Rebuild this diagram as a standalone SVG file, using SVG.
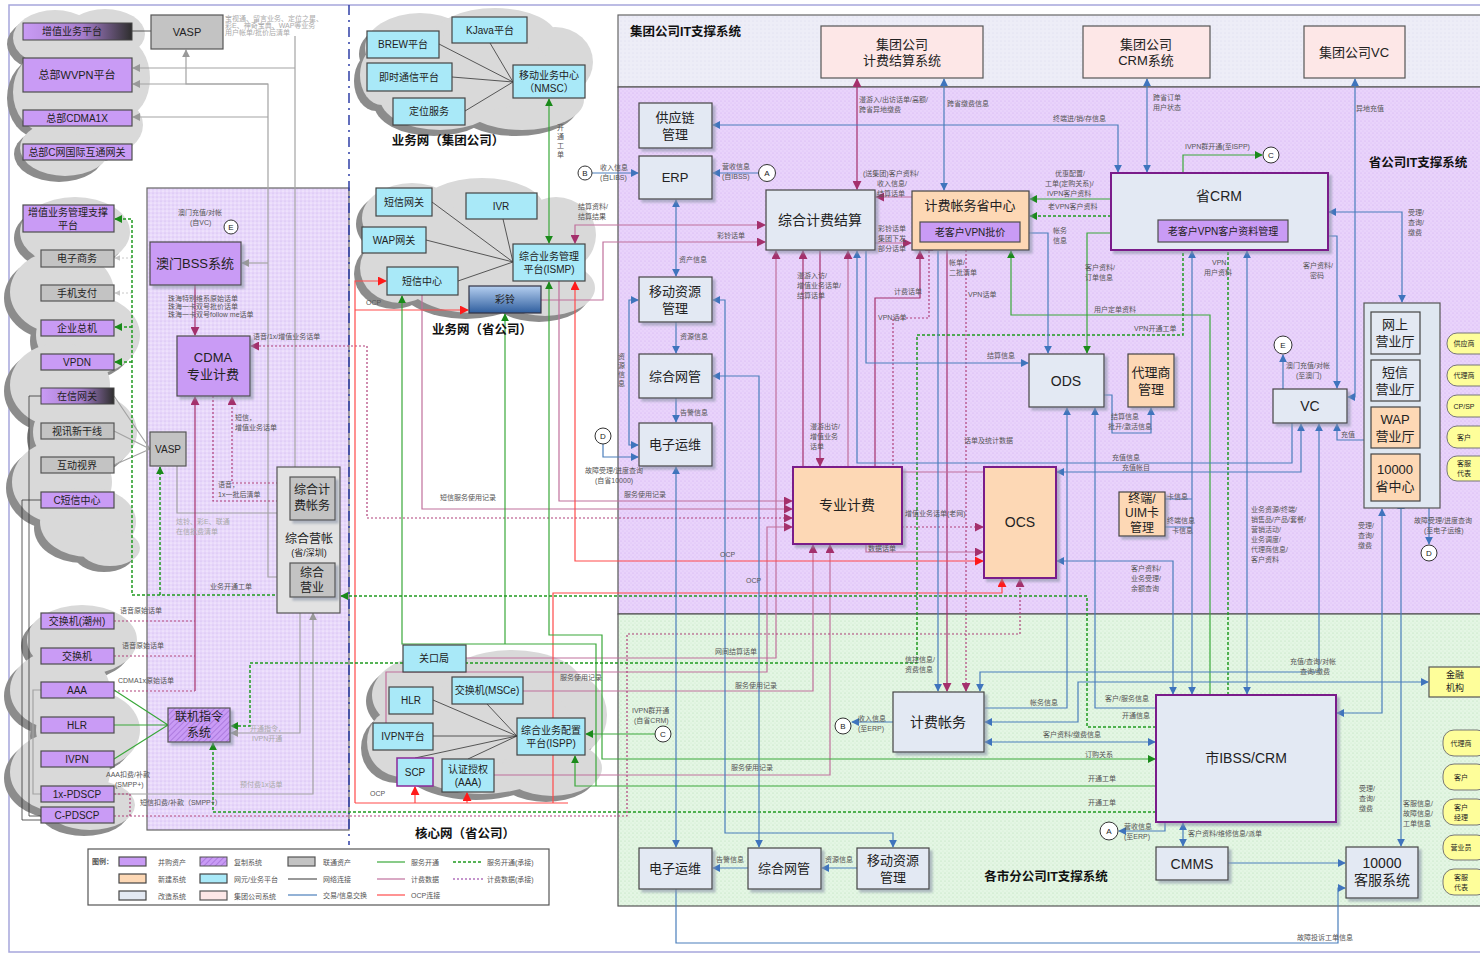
<svg xmlns="http://www.w3.org/2000/svg" width="1480" height="955" viewBox="0 0 1480 955">
<style>
.t{font-family:"Liberation Sans","Noto Sans CJK SC",sans-serif;text-anchor:middle;dominant-baseline:central;fill:#222}
.l{font-family:"Liberation Sans","Noto Sans CJK SC",sans-serif;font-size:7px;fill:#555}
.lg{font-family:"Liberation Sans","Noto Sans CJK SC",sans-serif;font-size:7px;fill:#aaa}
.h{font-family:"Liberation Sans","Noto Sans CJK SC",sans-serif;font-weight:bold;font-size:12.5px;fill:#111}
.pu{fill:#c99bf5;stroke:#4d4d4d;stroke-width:1.2}
.gy{fill:#c3c3c3;stroke:#555;stroke-width:1.2}
.cy{fill:#a9e9f8;stroke:#444;stroke-width:1.2}
.or{fill:#fdd8b5;stroke:#444;stroke-width:1.2}
.lt{fill:#e3e9f3;stroke:#444;stroke-width:1.2}
.pk{fill:#fde7e7;stroke:#555;stroke-width:1.2}
.ye{fill:#fefe9a;stroke:#777;stroke-width:1}
.vb{stroke:#7a1f8a;stroke-width:2}
.ci{fill:#fff;stroke:#333;stroke-width:1}
.sh{filter:url(#ds)}
#conn path,#conn line{fill:none}
.cb{stroke:#4a7ebb;stroke-width:1.2}
.cp{stroke:#c0709c;stroke-width:1.2}
.cm{stroke:#a4306c;stroke-width:1.2}
.cg{stroke:#3aa83a;stroke-width:1.2}
.cr{stroke:#ff4a4a;stroke-width:1.2}
.cgy{stroke:#a3a3a3;stroke-width:1.2}
.ck{stroke:#333;stroke-width:0.8}
.dp{stroke:#b0407a;stroke-width:1.2;stroke-dasharray:2,2}
.dg{stroke:#1f9a1f;stroke-width:1.5;stroke-dasharray:3,2}
.dl{stroke:#c8c8c8;stroke-width:1;stroke-dasharray:2,2}
.cloudS ellipse{fill:#8c8c8c}
.cloudM ellipse{fill:#d9d9d9}
</style>
<defs>
<filter id="ds" x="-10%" y="-10%" width="130%" height="130%"><feDropShadow dx="3" dy="3" stdDeviation="1" flood-color="#8c95a8" flood-opacity="0.6"/></filter>
<pattern id="dotP" width="4" height="4" patternUnits="userSpaceOnUse"><rect width="4" height="4" fill="#e9d3fb"/><circle cx="1" cy="1" r="0.6" fill="#cfaef0"/><circle cx="3" cy="3" r="0.6" fill="#d9c0f5"/></pattern>
<pattern id="dotL" width="4" height="4" patternUnits="userSpaceOnUse"><rect width="4" height="4" fill="#e8d8fb"/><circle cx="1" cy="1" r="0.6" fill="#cdb2ee"/><circle cx="3" cy="3" r="0.6" fill="#fff"/></pattern>
<pattern id="dotG" width="4" height="4" patternUnits="userSpaceOnUse"><rect width="4" height="4" fill="#e4f6e4"/><circle cx="1" cy="1" r="0.6" fill="#b6dfb6"/><circle cx="3" cy="3" r="0.6" fill="#cfeccf"/></pattern>
<pattern id="dotH" width="4" height="4" patternUnits="userSpaceOnUse"><rect width="4" height="4" fill="#ededf7"/><circle cx="1" cy="1" r="0.5" fill="#d6d6ea"/></pattern>
<pattern id="hatch" width="4" height="4" patternUnits="userSpaceOnUse" patternTransform="rotate(45)"><rect width="4" height="4" fill="#c99bf5"/><line x1="0" y1="0" x2="0" y2="4" stroke="#9a66d0" stroke-width="1.2"/></pattern>
<linearGradient id="gDark" x1="0" y1="0" x2="1" y2="0"><stop offset="0" stop-color="#c99bf5"/><stop offset="0.55" stop-color="#a67dcc"/><stop offset="1" stop-color="#2e2e2e"/></linearGradient>
<linearGradient id="gBlue" x1="0" y1="0" x2="0" y2="1"><stop offset="0" stop-color="#b5cff0"/><stop offset="1" stop-color="#2f5e9e"/></linearGradient>
<marker id="ab" viewBox="0 0 10 10" refX="9" refY="5" markerWidth="8" markerHeight="8" markerUnits="userSpaceOnUse" orient="auto-start-reverse"><path d="M0,0 L10,5 L0,10 z" fill="#3f74bd"/></marker>
<marker id="ap" viewBox="0 0 10 10" refX="9" refY="5" markerWidth="9" markerHeight="9" markerUnits="userSpaceOnUse" orient="auto-start-reverse"><path d="M0,0 L10,5 L0,10 z" fill="#a4306c"/></marker>
<marker id="ag" viewBox="0 0 10 10" refX="9" refY="5" markerWidth="8" markerHeight="8" markerUnits="userSpaceOnUse" orient="auto-start-reverse"><path d="M0,0 L10,5 L0,10 z" fill="#1a8a1a"/></marker>
<marker id="ar" viewBox="0 0 10 10" refX="9" refY="5" markerWidth="9" markerHeight="9" markerUnits="userSpaceOnUse" orient="auto-start-reverse"><path d="M0,0 L10,5 L0,10 z" fill="#ff1a1a"/></marker>
<marker id="ay" viewBox="0 0 10 10" refX="9" refY="5" markerWidth="8" markerHeight="8" markerUnits="userSpaceOnUse" orient="auto-start-reverse"><path d="M0,0 L10,5 L0,10 z" fill="#999"/></marker>
<marker id="al" viewBox="0 0 10 10" refX="9" refY="5" markerWidth="6" markerHeight="6" markerUnits="userSpaceOnUse" orient="auto-start-reverse"><path d="M0,0 L10,5 L0,10 z" fill="#c8c8c8"/></marker>
</defs>

<!-- background / regions -->
<g id="regions">
<rect x="0" y="0" width="1480" height="955" fill="#fff"/>
<rect x="9" y="5" width="1478" height="947" fill="none" stroke="#a6a6dc" stroke-width="1.5"/>
<rect x="618" y="15" width="870" height="72" fill="url(#dotH)" stroke="#666" stroke-width="1.2"/>
<rect x="618" y="87" width="870" height="527" fill="url(#dotP)" stroke="#555" stroke-width="1.2"/>
<rect x="618" y="614" width="870" height="292" fill="url(#dotG)" stroke="#555" stroke-width="1.2"/>
<rect x="147" y="188" width="202" height="642" fill="url(#dotL)" stroke="#666" stroke-width="1.2"/>
<line x1="349" y1="5" x2="349" y2="845" stroke="#2f3fa6" stroke-width="1.5" stroke-dasharray="10,5,2,5"/>
</g>

<g id="clouds">
<g class="cloudS" transform="translate(-6,6)">
<ellipse cx="55" cy="38" rx="42" ry="28"/><ellipse cx="105" cy="34" rx="40" ry="25"/><ellipse cx="125" cy="78" rx="25" ry="38"/><ellipse cx="45" cy="92" rx="32" ry="40"/><ellipse cx="105" cy="125" rx="38" ry="30"/><ellipse cx="65" cy="148" rx="45" ry="28"/>
<ellipse cx="75" cy="232" rx="55" ry="35"/><ellipse cx="62" cy="292" rx="52" ry="42"/><ellipse cx="88" cy="335" rx="52" ry="40"/><ellipse cx="60" cy="385" rx="50" ry="42"/><ellipse cx="85" cy="432" rx="52" ry="40"/><ellipse cx="62" cy="482" rx="50" ry="42"/><ellipse cx="88" cy="522" rx="48" ry="35"/><ellipse cx="110" cy="548" rx="30" ry="18"/>
<ellipse cx="82" cy="640" rx="55" ry="35"/><ellipse cx="60" cy="690" rx="50" ry="40"/><ellipse cx="88" cy="730" rx="52" ry="40"/><ellipse cx="60" cy="772" rx="50" ry="40"/><ellipse cx="90" cy="805" rx="45" ry="25"/>
<ellipse cx="420" cy="48" rx="55" ry="35"/><ellipse cx="495" cy="38" rx="62" ry="30"/><ellipse cx="555" cy="62" rx="38" ry="35"/><ellipse cx="440" cy="98" rx="60" ry="32"/><ellipse cx="522" cy="100" rx="62" ry="30"/><ellipse cx="382" cy="75" rx="22" ry="30"/>
<ellipse cx="412" cy="218" rx="50" ry="35"/><ellipse cx="482" cy="208" rx="62" ry="30"/><ellipse cx="556" cy="235" rx="40" ry="38"/><ellipse cx="400" cy="268" rx="40" ry="35"/><ellipse cx="472" cy="275" rx="70" ry="38"/><ellipse cx="545" cy="288" rx="50" ry="28"/>
<ellipse cx="432" cy="695" rx="60" ry="40"/><ellipse cx="512" cy="685" rx="70" ry="35"/><ellipse cx="572" cy="715" rx="35" ry="40"/><ellipse cx="402" cy="742" rx="35" ry="35"/><ellipse cx="482" cy="752" rx="80" ry="42"/><ellipse cx="552" cy="768" rx="50" ry="28"/>
</g>
<g class="cloudM">
<ellipse cx="55" cy="38" rx="42" ry="28"/><ellipse cx="105" cy="34" rx="40" ry="25"/><ellipse cx="125" cy="78" rx="25" ry="38"/><ellipse cx="45" cy="92" rx="32" ry="40"/><ellipse cx="105" cy="125" rx="38" ry="30"/><ellipse cx="65" cy="148" rx="45" ry="28"/><ellipse cx="85" cy="85" rx="45" ry="50"/>
<ellipse cx="75" cy="232" rx="55" ry="35"/><ellipse cx="62" cy="292" rx="52" ry="42"/><ellipse cx="88" cy="335" rx="52" ry="40"/><ellipse cx="60" cy="385" rx="50" ry="42"/><ellipse cx="85" cy="432" rx="52" ry="40"/><ellipse cx="62" cy="482" rx="50" ry="42"/><ellipse cx="88" cy="522" rx="48" ry="35"/><ellipse cx="110" cy="548" rx="30" ry="18"/>
<ellipse cx="82" cy="640" rx="55" ry="35"/><ellipse cx="60" cy="690" rx="50" ry="40"/><ellipse cx="88" cy="730" rx="52" ry="40"/><ellipse cx="60" cy="772" rx="50" ry="40"/><ellipse cx="90" cy="805" rx="45" ry="25"/>
<ellipse cx="420" cy="48" rx="55" ry="35"/><ellipse cx="495" cy="38" rx="62" ry="30"/><ellipse cx="555" cy="62" rx="38" ry="35"/><ellipse cx="440" cy="98" rx="60" ry="32"/><ellipse cx="522" cy="100" rx="62" ry="30"/><ellipse cx="382" cy="75" rx="22" ry="30"/><ellipse cx="480" cy="70" rx="70" ry="40"/>
<ellipse cx="412" cy="218" rx="50" ry="35"/><ellipse cx="482" cy="208" rx="62" ry="30"/><ellipse cx="556" cy="235" rx="40" ry="38"/><ellipse cx="400" cy="268" rx="40" ry="35"/><ellipse cx="472" cy="275" rx="70" ry="38"/><ellipse cx="545" cy="288" rx="50" ry="28"/><ellipse cx="480" cy="245" rx="70" ry="40"/>
<ellipse cx="432" cy="695" rx="60" ry="40"/><ellipse cx="512" cy="685" rx="70" ry="35"/><ellipse cx="572" cy="715" rx="35" ry="40"/><ellipse cx="402" cy="742" rx="35" ry="35"/><ellipse cx="482" cy="752" rx="80" ry="42"/><ellipse cx="552" cy="768" rx="50" ry="28"/><ellipse cx="490" cy="720" rx="80" ry="40"/>
</g>
</g>

<g id="conn">
<!-- gray network / VASP links -->
<path class="ck" d="M132,31 H151" stroke-width="1.5"/>
<path class="cgy" d="M295,36 V477" marker-end="url(#ay)"/>
<path class="cgy" d="M295,68 H133" marker-end="url(#ay)"/>
<path class="cgy" d="M186,50 V84 H268 V577 H290" marker-start="url(#ay)" marker-end="url(#ay)"/>
<path class="cgy" d="M268,84 H133" marker-end="url(#ay)"/>
<path class="cgy" d="M268,117 H133" marker-end="url(#ay)"/>
<path class="cgy" d="M268,263 H242" marker-end="url(#ay)"/>
<path class="cgy" d="M114,396 L150,449 M114,431 L150,449 M114,465 L150,449"/>
<path class="cgy" d="M177,466 V513 H290" marker-end="url(#ay)"/>
<path class="cgy" d="M312,520 V563" marker-start="url(#ay)" marker-end="url(#ay)"/>
<path class="cgy" d="M300,613 V733 H231" marker-end="url(#ay)"/>
<path class="cgy" d="M313,613 V794 H33 V690 H41" marker-start="url(#ay)"/>
<path class="ck" d="M41,396 H29 V816 H41 M41,500 H22 V820 H41" stroke="#777"/>
<path class="ck" d="M439,44 L513,82 M490,43 L513,82 M452,77 L513,82 M465,111 L513,82"/>
<path class="ck" d="M432,202 L513,262 M503,219 L513,262 M426,240 L513,262 M458,281 L513,262"/>
<path class="ck" d="M433,700 L517,736 M487,704 L517,736 M433,736 L517,736 M415,758 L517,736 M468,759 L517,736"/>
<path class="dl" d="M132,258 H115" marker-end="url(#al)"/>
<path class="dl" d="M132,293 H115" marker-end="url(#al)"/>

<!-- pink billing -->
<path class="cm" d="M195,285 V335" marker-end="url(#ap)"/>
<path class="cm" d="M195,691 V397" marker-end="url(#ap)"/>
<path class="cm" d="M857,79 V189" marker-start="url(#ap)" marker-end="url(#ap)"/>
<path class="cp" d="M912,197 H876" marker-end="url(#ap)"/>
<path class="cp" d="M875,243 H911" marker-end="url(#ap)"/>
<path class="cp" d="M541,300 H603 V242 H765" marker-end="url(#ap)"/>
<path class="cp" d="M575,243 V225 H765" marker-start="url(#ap)" marker-end="url(#ap)"/>
<path class="cm" d="M820,251 V466" marker-end="url(#ap)"/>
<path class="cm" d="M803,467 V251" marker-end="url(#ap)"/>
<path class="cm" d="M920,251 V298 H875 V467" marker-start="url(#ap)"/>
<path class="cm" d="M947,250 V691" marker-end="url(#ap)"/>
<path class="cp" d="M848,251 V472 H993 V467" marker-start="url(#ap)"/>
<path class="cp" d="M776,251 V658 H466" marker-start="url(#ap)"/>
<path class="cp" d="M523,691 H813 V545" marker-end="url(#ap)"/>
<path class="cp" d="M494,775 H830 V545" marker-end="url(#ap)"/>
<path class="cp" d="M386,723 V672 H767 V527 H792" marker-end="url(#ap)"/>
<path class="cp" d="M422,295 V509 H792" marker-end="url(#ap)"/>
<path class="cp" d="M559,281 V501 H792" marker-end="url(#ap)"/>
<path class="cp" d="M866,544 V552 H983" marker-end="url(#ap)"/>
<!-- dotted billing -->
<path class="dp" d="M251,346 H367 V518 H792" marker-start="url(#ap)" marker-end="url(#ap)"/>
<path class="dp" d="M290,483 H232 V397" marker-end="url(#ap)"/>
<path class="dp" d="M213,396 V501 H289" marker-end="url(#ap)"/>
<path class="dp" d="M929,243 V318 H893 V467" marker-start="url(#ap)"/>
<path class="dp" d="M966,250 V691" marker-end="url(#ap)"/>
<path class="dp" d="M902,527 H983" marker-end="url(#ap)"/>
<path class="dp" d="M114,816 H627 V634 H1020 V579" marker-end="url(#ap)"/>
<path class="dp" d="M114,794 H130 V816"/>
<path class="dp" d="M114,621 H195 M114,656 H195 M114,691 H195"/>

<!-- red OCP -->
<path class="cr" d="M355,803 V281 H386" marker-end="url(#ar)"/>
<path class="cr" d="M355,310 H468" marker-end="url(#ar)"/>
<path class="cr" d="M575,282 V561 H983" marker-start="url(#ar)" marker-end="url(#ar)"/>
<path class="cr" d="M355,803 H568 M553,803 V593 H1002 V579" marker-end="url(#ar)"/>
<path class="cr" d="M415,803 V787" marker-end="url(#ar)"/>
<path class="cr" d="M467,803 V793" marker-end="url(#ar)"/>

<!-- green provisioning -->
<path class="cg" d="M549,99 V243" marker-start="url(#ag)" marker-end="url(#ag)"/>
<path class="cg" d="M549,282 V635 H602 V759 H1155" marker-start="url(#ag)" marker-end="url(#ag)"/>
<path class="cg" d="M402,296 V644 H596 V786" marker-start="url(#ag)"/>
<path class="cg" d="M505,314 V644" marker-start="url(#ag)"/>
<path class="cg" d="M1156,786 H575 V756" marker-end="url(#ag)"/>
<path class="cg" d="M655,734 H586" marker-end="url(#ag)"/>
<path class="cg" d="M1183,173 V155 H1262" marker-end="url(#ag)"/>
<path class="cg" d="M1111,199 H1030" marker-end="url(#ag)"/>
<path class="cg" d="M1111,233 H1087 V353" marker-end="url(#ag)"/>
<path class="cg" d="M1011,251 V315 H1210 V695" marker-start="url(#ag)"/>
<path class="cg" d="M114,690 L168,725 M114,725 L168,725 M114,759 L168,725"/>
<!-- green dotted -->
<path class="dg" d="M1111,216 H1030" marker-end="url(#ag)"/>
<path class="dg" d="M1183,243 V335 H917 V663 H250 V726 H231" marker-end="url(#ag)"/>
<path class="dg" d="M1228,695 V243" marker-end="url(#ag)"/>
<path class="dg" d="M1156,812 H213 V743" marker-end="url(#ag)"/>
<path class="dg" d="M1156,727 H1087 V596 H341" marker-end="url(#ag)"/>
<path class="dg" d="M290,595 H132 V219 H115" marker-end="url(#ag)"/>
<path class="dg" d="M132,327 H115" marker-end="url(#ag)"/>
<path class="dg" d="M132,362 H115" marker-end="url(#ag)"/>
<path class="dg" d="M160,595 V467" marker-end="url(#ag)"/>

<!-- blue information exchange -->
<path class="cb" d="M944,79 V190" marker-start="url(#ab)" marker-end="url(#ab)"/>
<path class="cb" d="M1147,79 V172" marker-start="url(#ab)" marker-end="url(#ab)"/>
<path class="cb" d="M1355,79 V397 H1348" marker-start="url(#ab)" marker-end="url(#ab)"/>
<path class="cb" d="M1118,172 V125 H713" marker-start="url(#ab)" marker-end="url(#ab)"/>
<path class="cb" d="M758,173 H713" marker-end="url(#ab)"/>
<path class="cb" d="M592,173 H638" marker-end="url(#ab)"/>
<path class="cb" d="M676,200 V276" marker-start="url(#ab)" marker-end="url(#ab)"/>
<path class="cb" d="M676,322 V353" marker-end="url(#ab)"/>
<path class="cb" d="M676,398 V422" marker-end="url(#ab)"/>
<path class="cb" d="M638,300 H629 V445 H638" marker-start="url(#ab)" marker-end="url(#ab)"/>
<path class="cb" d="M603,444 V457 H638" marker-end="url(#ab)"/>
<path class="cb" d="M676,467 V847" marker-start="url(#ab)" marker-end="url(#ab)"/>
<path class="cb" d="M713,300 H725 V833 H893 V847" marker-start="url(#ab)" marker-end="url(#ab)"/>
<path class="cb" d="M713,376 H759 V847" marker-start="url(#ab)" marker-end="url(#ab)"/>
<path class="cb" d="M857,868 H822" marker-end="url(#ab)"/>
<path class="cb" d="M748,868 H713" marker-end="url(#ab)"/>
<path class="cb" d="M676,889 V943 H1338 V888 H1345" marker-end="url(#ab)"/>
<path class="cb" d="M938,251 V691" marker-end="url(#ab)"/>
<path class="cb" d="M1029,233 H1048 V353" marker-end="url(#ab)"/>
<path class="cb" d="M866,251 V363 H1028" marker-end="url(#ab)"/>
<path class="cb" d="M857,251 V463 H1292 V423" marker-start="url(#ab)"/>
<path class="cb" d="M1057,472 H1301 V424" marker-start="url(#ab)" marker-end="url(#ab)"/>
<path class="cb" d="M985,708 H1067 V408" marker-end="url(#ab)"/>
<path class="cb" d="M1104,395 H1112 V433 H1151 V408" marker-end="url(#ab)"/>
<path class="cb" d="M1329,212 H1402 V302" marker-start="url(#ab)" marker-end="url(#ab)"/>
<path class="cb" d="M1328,236 H1337 V388" marker-end="url(#ab)"/>
<path class="cb" d="M1421,333 H1425 V478 H1421" marker-start="url(#ab)" marker-end="url(#ab)"/>
<path class="cb" d="M1420,492 H1429 V544" marker-end="url(#ab)"/>
<path class="cb" d="M1364,440 H1337 V424" marker-end="url(#ab)"/>
<path class="cb" d="M1283,389 V355" marker-end="url(#ab)"/>
<path class="cb" d="M1382,509 V713 H1337" marker-start="url(#ab)" marker-end="url(#ab)"/>
<path class="cb" d="M1401,502 V846" marker-start="url(#ab)" marker-end="url(#ab)"/>
<path class="cb" d="M980,691 V672 H1319 V424" marker-start="url(#ab)" marker-end="url(#ab)"/>
<path class="cb" d="M985,722 H1078 V682 H1428" marker-start="url(#ab)" marker-end="url(#ab)"/>
<path class="cb" d="M1155,742 H985" marker-start="url(#ab)" marker-end="url(#ab)"/>
<path class="cb" d="M1165,822 V831 H1119" marker-end="url(#ab)"/>
<path class="cb" d="M1183,823 V846" marker-start="url(#ab)" marker-end="url(#ab)"/>
<path class="cb" d="M1228,863 H1345" marker-end="url(#ab)"/>
<path class="cb" d="M893,722 H852" marker-end="url(#ab)"/>
<path class="cb" d="M1192,251 V694" marker-start="url(#ab)" marker-end="url(#ab)"/>
<path class="cb" d="M1247,251 V694" marker-start="url(#ab)" marker-end="url(#ab)"/>
<path class="cb" d="M1165,499 H1192 M1165,527 H1192"/>
<path class="cb" d="M1057,561 H1173 V694" marker-start="url(#ab)" marker-end="url(#ab)"/>
<path class="cb" d="M1156,708 H1095 V408" marker-end="url(#ab)"/>
</g>

<g id="nodes">
<g id="n-zzypt"><rect x="23" y="23" width="109" height="17" fill="url(#gDark)" stroke="#444"/><text class="t" x="72" y="31.5" font-size="10">增值业务平台</text></g>
<g id="n-vasp1"><rect class="gy" x="151" y="15" width="72" height="34"/><text class="t" x="187" y="32" font-size="11">VASP</text></g>
<g id="n-wvpn"><rect class="pu" x="23" y="58" width="109" height="34"/><text class="t" x="77" y="75" font-size="11">总部WVPN平台</text></g>
<g id="n-cdma1x"><rect class="pu" x="23" y="110" width="109" height="16"/><text class="t" x="77" y="118" font-size="10">总部CDMA1X</text></g>
<g id="n-cgw"><rect class="pu" x="23" y="144" width="109" height="16"/><text class="t" x="77" y="152" font-size="10">总部C网国际互通网关</text></g>
<g id="n-vasmp"><rect class="pu" x="23" y="205" width="91" height="27"/><text class="t" x="68" y="212" font-size="10">增值业务管理支撑</text><text class="t" x="68" y="225" font-size="10">平台</text></g>
<g id="n-dzsw"><rect class="gy" x="41" y="250" width="73" height="17"/><text class="t" x="77" y="258.5" font-size="10">电子商务</text></g>
<g id="n-sjzf"><rect class="gy" x="41" y="285" width="73" height="16"/><text class="t" x="77" y="293" font-size="10">手机支付</text></g>
<g id="n-qyzj"><rect class="pu" x="41" y="320" width="73" height="16"/><text class="t" x="77" y="328" font-size="10">企业总机</text></g>
<g id="n-vpdn"><rect class="pu" x="41" y="354" width="73" height="16"/><text class="t" x="77" y="362" font-size="10">VPDN</text></g>
<g id="n-zxwg"><rect x="41" y="388" width="73" height="16" fill="url(#gDark)" stroke="#444"/><text class="t" x="77" y="396" font-size="10">在信网关</text></g>
<g id="n-sxxgx"><rect class="gy" x="41" y="423" width="73" height="16"/><text class="t" x="77" y="431" font-size="10">视讯新干线</text></g>
<g id="n-hdsj"><rect class="gy" x="41" y="457" width="73" height="16"/><text class="t" x="77" y="465" font-size="10">互动视界</text></g>
<g id="n-cdxzx"><rect class="pu" x="41" y="492" width="73" height="16"/><text class="t" x="77" y="500" font-size="10">C短信中心</text></g>
<g id="n-jhjcz"><rect class="pu" x="41" y="613" width="73" height="16"/><text class="t" x="77" y="621" font-size="10">交换机(潮州)</text></g>
<g id="n-jhj"><rect class="pu" x="41" y="648" width="73" height="16"/><text class="t" x="77" y="656" font-size="10">交换机</text></g>
<g id="n-aaa"><rect class="pu" x="41" y="682" width="73" height="16"/><text class="t" x="77" y="690" font-size="10">AAA</text></g>
<g id="n-hlr1"><rect class="pu" x="41" y="717" width="73" height="16"/><text class="t" x="77" y="725" font-size="10">HLR</text></g>
<g id="n-ivpn"><rect class="pu" x="41" y="751" width="73" height="16"/><text class="t" x="77" y="759" font-size="10">IVPN</text></g>
<g id="n-1xpdscp"><rect class="pu" x="41" y="786" width="73" height="16"/><text class="t" x="77" y="794" font-size="10">1x-PDSCP</text></g>
<g id="n-cpdscp"><rect class="pu" x="41" y="807" width="73" height="16"/><text class="t" x="77" y="815" font-size="10">C-PDSCP</text></g>

<g id="n-ambss"><rect class="pu sh" x="150" y="242" width="91" height="43"/><text class="t" x="195" y="263" font-size="13">澳门BSS系统</text></g>
<g id="n-cdmajf"><rect class="pu sh" x="177" y="336" width="73" height="60"/><text class="t" x="213" y="357" font-size="13">CDMA</text><text class="t" x="213" y="374" font-size="13">专业计费</text></g>
<g id="n-vasp2"><rect class="gy" x="150" y="432" width="36" height="34"/><text class="t" x="168" y="449" font-size="10">VASP</text></g>
<g id="n-zhyz"><rect x="277" y="467" width="63" height="146" fill="#e2e2e2" stroke="#555" stroke-width="1.2"/>
<rect class="gy sh" x="290" y="477" width="45" height="43"/><text class="t" x="312" y="490" font-size="12">综合计</text><text class="t" x="312" y="506" font-size="12">费帐务</text>
<text class="t" x="309" y="539" font-size="12">综合营帐</text><text class="t" x="309" y="553" font-size="9">(省/深圳)</text>
<rect class="gy sh" x="290" y="563" width="45" height="34"/><text class="t" x="312" y="573" font-size="12">综合</text><text class="t" x="312" y="588" font-size="12">营业</text></g>
<g id="n-ljzl"><rect x="168" y="708" width="62" height="34" fill="url(#hatch)" stroke="#555" stroke-width="1.2" class="sh"/><text class="t" x="199" y="717" font-size="12">联机指令</text><text class="t" x="199" y="733" font-size="12">系统</text></g>

<g id="n-kjava"><rect class="cy" x="452" y="17" width="75" height="26"/><text class="t" x="490" y="30" font-size="10">KJava平台</text></g>
<g id="n-brew"><rect class="cy" x="367" y="31" width="72" height="27"/><text class="t" x="403" y="44.5" font-size="10">BREW平台</text></g>
<g id="n-jstx"><rect class="cy" x="367" y="63" width="85" height="28"/><text class="t" x="409" y="77" font-size="10">即时通信平台</text></g>
<g id="n-dwfw"><rect class="cy" x="393" y="98" width="72" height="27"/><text class="t" x="429" y="111.5" font-size="10">定位服务</text></g>
<g id="n-nmsc"><rect class="cy" x="513" y="65" width="72" height="33"/><text class="t" x="549" y="75" font-size="10">移动业务中心</text><text class="t" x="549" y="88" font-size="10">（NMSC）</text></g>
<g id="n-dxwg"><rect class="cy" x="376" y="188" width="56" height="28"/><text class="t" x="404" y="202" font-size="10">短信网关</text></g>
<g id="n-ivr"><rect class="cy" x="466" y="193" width="71" height="26"/><text class="t" x="501" y="206" font-size="10">IVR</text></g>
<g id="n-wapwg"><rect class="cy" x="362" y="227" width="64" height="26"/><text class="t" x="394" y="240" font-size="10">WAP网关</text></g>
<g id="n-ismp"><rect class="cy" x="513" y="244" width="72" height="37"/><text class="t" x="549" y="256" font-size="10">综合业务管理</text><text class="t" x="549" y="269" font-size="10">平台(ISMP)</text></g>
<g id="n-dxzx"><rect class="cy" x="387" y="267" width="71" height="28"/><text class="t" x="422" y="281" font-size="10">短信中心</text></g>
<g id="n-cl"><rect x="469" y="286" width="72" height="27" fill="url(#gBlue)" stroke="#334" stroke-width="1.2"/><text class="t" x="505" y="299.5" font-size="10">彩铃</text></g>
<g id="n-gkj"><rect class="cy" x="403" y="645" width="63" height="27"/><text class="t" x="434" y="658.5" font-size="10">关口局</text></g>
<g id="n-msce"><rect class="cy" x="452" y="677" width="71" height="27"/><text class="t" x="487" y="690.5" font-size="10">交换机(MSCe)</text></g>
<g id="n-hlr2"><rect class="cy" x="389" y="687" width="44" height="27"/><text class="t" x="411" y="700.5" font-size="10">HLR</text></g>
<g id="n-ivpnpt"><rect class="cy" x="373" y="723" width="60" height="27"/><text class="t" x="403" y="736.5" font-size="10">IVPN平台</text></g>
<g id="n-ispp"><rect class="cy" x="517" y="718" width="68" height="37"/><text class="t" x="551" y="730" font-size="10">综合业务配置</text><text class="t" x="551" y="743" font-size="10">平台(ISPP)</text></g>
<g id="n-scp"><rect x="397" y="758" width="36" height="28" fill="#a9e9f8" stroke="#8a2a9a" stroke-width="1.5"/><text class="t" x="415" y="772" font-size="10">SCP</text></g>
<g id="n-aaa2"><rect class="cy" x="442" y="759" width="52" height="33"/><text class="t" x="468" y="769" font-size="10">认证授权</text><text class="t" x="468" y="782" font-size="10">(AAA)</text></g>

<g id="n-jtjf"><rect class="pk" x="821" y="26" width="162" height="52"/><text class="t" x="902" y="44" font-size="13">集团公司</text><text class="t" x="902" y="60" font-size="13">计费结算系统</text></g>
<g id="n-jtcrm"><rect class="pk" x="1083" y="26" width="127" height="52"/><text class="t" x="1146" y="44" font-size="13">集团公司</text><text class="t" x="1146" y="60" font-size="13">CRM系统</text></g>
<g id="n-jtvc"><rect class="pk" x="1304" y="26" width="101" height="52"/><text class="t" x="1354" y="52" font-size="13">集团公司VC</text></g>
<g id="n-gyl"><rect class="lt sh" x="639" y="103" width="73" height="45"/><text class="t" x="675" y="117" font-size="13">供应链</text><text class="t" x="675" y="134" font-size="13">管理</text></g>
<g id="n-erp"><rect class="lt sh" x="639" y="156" width="73" height="43"/><text class="t" x="675" y="177.5" font-size="13">ERP</text></g>
<g id="n-ydzy1"><rect class="lt sh" x="639" y="277" width="73" height="45"/><text class="t" x="675" y="291" font-size="13">移动资源</text><text class="t" x="675" y="308" font-size="13">管理</text></g>
<g id="n-zhwg1"><rect class="lt sh" x="639" y="354" width="73" height="44"/><text class="t" x="675" y="376" font-size="13">综合网管</text></g>
<g id="n-dzyw1"><rect class="lt sh" x="639" y="423" width="73" height="43"/><text class="t" x="675" y="444.5" font-size="13">电子运维</text></g>
<g id="n-zhjfjs"><rect class="lt sh" x="766" y="190" width="109" height="60"/><text class="t" x="820" y="220" font-size="14">综合计费结算</text></g>
<g id="n-jfzwszx"><rect class="or sh" x="912" y="191" width="117" height="59"/><text class="t" x="970" y="205" font-size="13">计费帐务省中心</text><rect class="pu" x="920" y="222" width="100" height="20"/><text class="t" x="970" y="232" font-size="10">老客户VPN批价</text></g>
<g id="n-scrm"><rect class="lt vb sh" x="1111" y="173" width="217" height="77"/><text class="t" x="1219" y="196" font-size="14">省CRM</text><rect class="pu" x="1158" y="220" width="130" height="22"/><text class="t" x="1223" y="231" font-size="10">老客户VPN客户资料管理</text></g>
<g id="n-ods"><rect class="lt sh" x="1029" y="354" width="75" height="53"/><text class="t" x="1066" y="380.5" font-size="14">ODS</text></g>
<g id="n-dlsgl"><rect class="or sh" x="1128" y="354" width="46" height="53"/><text class="t" x="1151" y="372" font-size="13">代理商</text><text class="t" x="1151" y="389" font-size="13">管理</text></g>
<g id="n-vc"><rect class="lt sh" x="1273" y="389" width="74" height="34"/><text class="t" x="1310" y="406" font-size="14">VC</text></g>
<g id="n-portal"><rect x="1364" y="303" width="76" height="205" fill="#dfe7f1" stroke="#555" stroke-width="1.2"/>
<rect class="lt" x="1371" y="312" width="49" height="42"/><text class="t" x="1395" y="324" font-size="13">网上</text><text class="t" x="1395" y="341" font-size="13">营业厅</text>
<rect class="lt" x="1371" y="360" width="49" height="41"/><text class="t" x="1395" y="372" font-size="13">短信</text><text class="t" x="1395" y="389" font-size="13">营业厅</text>
<rect class="or" x="1371" y="407" width="49" height="41"/><text class="t" x="1395" y="419" font-size="13">WAP</text><text class="t" x="1395" y="436" font-size="13">营业厅</text>
<rect class="or" x="1371" y="454" width="49" height="47"/><text class="t" x="1395" y="469" font-size="13">10000</text><text class="t" x="1395" y="486" font-size="13">省中心</text></g>
<g id="n-y1"><rect class="ye" x="1447" y="333" width="45" height="21" rx="10"/><text class="t" x="1464" y="343.5" font-size="7">供应商</text></g>
<g id="n-y2"><rect class="ye" x="1447" y="365" width="45" height="21" rx="10"/><text class="t" x="1464" y="375.5" font-size="7">代理商</text></g>
<g id="n-y3"><rect class="ye" x="1447" y="395" width="45" height="22" rx="10"/><text class="t" x="1464" y="406" font-size="7">CP/SP</text></g>
<g id="n-y4"><rect class="ye" x="1447" y="426" width="45" height="22" rx="10"/><text class="t" x="1464" y="437" font-size="7">客户</text></g>
<g id="n-y5"><rect class="ye" x="1447" y="456" width="45" height="25" rx="10"/><text class="t" x="1464" y="463" font-size="7">客服</text><text class="t" x="1464" y="473" font-size="7">代表</text></g>
<g id="n-uim"><rect class="or sh" x="1119" y="492" width="46" height="44"/><text class="t" x="1142" y="499" font-size="12">终端/</text><text class="t" x="1142" y="513" font-size="12">UIM卡</text><text class="t" x="1142" y="528" font-size="12">管理</text></g>
<g id="n-zyjf"><rect class="or vb sh" x="793" y="467" width="109" height="77"/><text class="t" x="847" y="505" font-size="14">专业计费</text></g>
<g id="n-ocs"><rect class="or vb sh" x="984" y="467" width="72" height="111"/><text class="t" x="1020" y="522" font-size="14">OCS</text></g>

<g id="n-jfzw"><rect class="lt sh" x="893" y="692" width="91" height="60"/><text class="t" x="938" y="722" font-size="14">计费帐务</text></g>
<g id="n-sibss"><rect class="lt vb sh" x="1156" y="695" width="180" height="127"/><text class="t" x="1246" y="758" font-size="14">市IBSS/CRM</text></g>
<g id="n-cmms"><rect class="lt sh" x="1156" y="847" width="72" height="33"/><text class="t" x="1192" y="863.5" font-size="14">CMMS</text></g>
<g id="n-10000kf"><rect class="lt sh" x="1346" y="847" width="72" height="51"/><text class="t" x="1382" y="863" font-size="14">10000</text><text class="t" x="1382" y="880" font-size="14">客服系统</text></g>
<g id="n-jrjg"><rect x="1429" y="667" width="60" height="30" fill="#fefe9a" stroke="#555" stroke-width="1.2"/><text class="t" x="1455" y="675" font-size="9">金融</text><text class="t" x="1455" y="688" font-size="9">机构</text></g>
<g id="n-y6"><rect class="ye" x="1443" y="730" width="45" height="26" rx="11"/><text class="t" x="1461" y="743" font-size="7">代理商</text></g>
<g id="n-y7"><rect class="ye" x="1443" y="764" width="45" height="26" rx="11"/><text class="t" x="1461" y="777" font-size="7">客户</text></g>
<g id="n-y8"><rect class="ye" x="1443" y="799" width="45" height="26" rx="11"/><text class="t" x="1461" y="807" font-size="7">客户</text><text class="t" x="1461" y="817" font-size="7">经理</text></g>
<g id="n-y9"><rect class="ye" x="1443" y="835" width="45" height="25" rx="11"/><text class="t" x="1461" y="847.5" font-size="7">营业员</text></g>
<g id="n-y10"><rect class="ye" x="1443" y="869" width="45" height="26" rx="11"/><text class="t" x="1461" y="877" font-size="7">客服</text><text class="t" x="1461" y="887" font-size="7">代表</text></g>
<g id="n-dzyw2"><rect class="lt sh" x="639" y="848" width="73" height="41"/><text class="t" x="675" y="868.5" font-size="13">电子运维</text></g>
<g id="n-zhwg2"><rect class="lt sh" x="748" y="848" width="73" height="41"/><text class="t" x="784" y="868.5" font-size="13">综合网管</text></g>
<g id="n-ydzy2"><rect class="lt sh" x="857" y="848" width="72" height="41"/><text class="t" x="893" y="860" font-size="13">移动资源</text><text class="t" x="893" y="877" font-size="13">管理</text></g>

<g id="n-circles">
<circle class="ci" cx="231" cy="227" r="7"/><text class="t" x="231" y="227" font-size="8" font-family="Liberation Serif">E</text>
<circle class="ci" cx="585" cy="173" r="7"/><text class="t" x="585" y="173" font-size="8" font-family="Liberation Serif">B</text>
<circle class="ci" cx="767" cy="173" r="8.5"/><text class="t" x="767" y="173" font-size="8" font-family="Liberation Serif">A</text>
<circle class="ci" cx="603" cy="436" r="8"/><text class="t" x="603" y="436" font-size="8" font-family="Liberation Serif">D</text>
<circle class="ci" cx="1271" cy="155" r="8"/><text class="t" x="1271" y="155" font-size="8" font-family="Liberation Serif">C</text>
<circle class="ci" cx="1283" cy="345" r="9"/><text class="t" x="1283" y="345" font-size="8" font-family="Liberation Serif">E</text>
<circle class="ci" cx="1429" cy="553" r="8"/><text class="t" x="1429" y="553" font-size="8" font-family="Liberation Serif">D</text>
<circle class="ci" cx="663" cy="734" r="8"/><text class="t" x="663" y="734" font-size="8" font-family="Liberation Serif">C</text>
<circle class="ci" cx="843" cy="726" r="8"/><text class="t" x="843" y="726" font-size="8" font-family="Liberation Serif">B</text>
<circle class="ci" cx="1109" cy="831" r="9"/><text class="t" x="1109" y="831" font-size="8" font-family="Liberation Serif">A</text>
</g>
</g>

<g id="titles">
<text class="h" x="448" y="145" text-anchor="middle">业务网（集团公司）</text>
<text class="h" x="482" y="334" text-anchor="middle">业务网（省公司）</text>
<text class="h" x="465" y="838" text-anchor="middle">核心网（省公司）</text>
<text class="h" x="630" y="36">集团公司IT支撑系统</text>
<text class="h" x="1418" y="167" text-anchor="middle">省公司IT支撑系统</text>
<text class="h" x="1046" y="881" text-anchor="middle">各市分公司IT支撑系统</text>
</g>

<g id="labels">
<text class="lg"><tspan x="225" y="21">宝视通、留言业务、定位之星、</tspan><tspan x="225" y="28">彩E、神奇宝典、WAP等业务</tspan><tspan x="225" y="35">用户帐单/批价后清单</tspan></text>
<text class="l"><tspan x="178" y="215">澳门充值/对帐</tspan><tspan x="190" y="225">(自VC)</tspan></text>
<text class="l"><tspan x="168" y="301">珠海特别维系原始话单</tspan><tspan x="168" y="309">珠海一卡双号批价话单</tspan><tspan x="168" y="317">珠海一卡双号follow me话单</tspan></text>
<text class="l" x="253" y="339">语音/1x/增值业务话单</text>
<text class="l"><tspan x="235" y="420">短信，</tspan><tspan x="235" y="430">增值业务话单</tspan></text>
<text class="l"><tspan x="218" y="487">语音，</tspan><tspan x="218" y="497">1x一批后清单</tspan></text>
<text class="lg"><tspan x="176" y="524">炫铃、彩E、联通</tspan><tspan x="176" y="534">在信批费清单</tspan></text>
<text class="l" x="210" y="589">业务开通工单</text>
<text class="l" x="120" y="613">语音原始话单</text>
<text class="l" x="122" y="648">语音原始话单</text>
<text class="l" x="118" y="683">CDMA1x原始话单</text>
<text class="lg"><tspan x="250" y="731">开通指令，</tspan><tspan x="252" y="741">IVPN开通</tspan></text>
<text class="lg" x="240" y="787">预付费1x话单</text>
<text class="l"><tspan x="106" y="777">AAA扣费/补款</tspan><tspan x="115" y="787">(SMPP+)</tspan></text>
<text class="l" x="140" y="805">短信扣费/补款（SMPP+）</text>
<text class="l"><tspan x="557" y="130">开</tspan><tspan x="557" y="139">通</tspan><tspan x="557" y="148">工</tspan><tspan x="557" y="157">单</tspan></text>
<text class="l" x="366" y="305">OCP</text>
<text class="l"><tspan x="600" y="170">收入信息</tspan><tspan x="600" y="180">(自LIBS)</tspan></text>
<text class="l"><tspan x="578" y="209">结算资料/</tspan><tspan x="578" y="219">结算结果</tspan></text>
<text class="l" x="717" y="238">彩铃话单</text>
<text class="l"><tspan x="722" y="169">营收信息</tspan><tspan x="722" y="179">(自IBSS)</tspan></text>
<text class="l" x="679" y="262">资产信息</text>
<text class="l" x="680" y="339">资源信息</text>
<text class="l" x="680" y="415">告警信息</text>
<text class="l"><tspan x="618" y="359">资</tspan><tspan x="618" y="368">源</tspan><tspan x="618" y="377">信</tspan><tspan x="618" y="386">息</tspan></text>
<text class="l"><tspan x="585" y="473">故障受理/进度查询</tspan><tspan x="595" y="483">(自省10000)</tspan></text>
<text class="l" x="440" y="500">短信服务使用记录</text>
<text class="l" x="624" y="497">服务使用记录</text>
<text class="l"><tspan x="859" y="102">漫游入/出访话单/高额/</tspan><tspan x="859" y="112">跨省异地缴费</tspan></text>
<text class="l" x="947" y="106">跨省缴费信息</text>
<text class="l" x="1053" y="121">终端进/销/存信息</text>
<text class="l"><tspan x="1153" y="100">跨省订单</tspan><tspan x="1153" y="110">用户状态</tspan></text>
<text class="l" x="1356" y="111">异地充值</text>
<text class="l" x="1185" y="149">IVPN群开通(至ISPP)</text>
<text class="l"><tspan x="863" y="176">(送集团)客户资料/</tspan><tspan x="877" y="186">收入信息/</tspan><tspan x="877" y="196">结算话单</tspan></text>
<text class="l"><tspan x="1055" y="176">优惠配置/</tspan><tspan x="1045" y="186">工单(定购关系)/</tspan><tspan x="1047" y="196">IVPN客户资料</tspan></text>
<text class="l" x="1048" y="209">老VPN客户资料</text>
<text class="l"><tspan x="878" y="231">彩铃话单</tspan><tspan x="878" y="241">集团下发</tspan><tspan x="878" y="251">部分话单</tspan></text>
<text class="l"><tspan x="1053" y="233">帐务</tspan><tspan x="1053" y="243">信息</tspan></text>
<text class="l"><tspan x="949" y="265">帐单/</tspan><tspan x="949" y="275">二批清单</tspan></text>
<text class="l"><tspan x="797" y="278">漫游入访/</tspan><tspan x="797" y="288">增值业务话单/</tspan><tspan x="797" y="298">结算话单</tspan></text>
<text class="l" x="894" y="294">计费话单</text>
<text class="l" x="968" y="297">VPN话单</text>
<text class="l" x="878" y="320">VPN话单</text>
<text class="l"><tspan x="1085" y="270">客户资料/</tspan><tspan x="1085" y="280">订单信息</tspan></text>
<text class="l"><tspan x="1212" y="265">VPN</tspan><tspan x="1204" y="275">用户资料</tspan></text>
<text class="l"><tspan x="1303" y="268">客户资料/</tspan><tspan x="1310" y="278">密码</tspan></text>
<text class="l"><tspan x="1408" y="215">受理/</tspan><tspan x="1408" y="225">查询/</tspan><tspan x="1408" y="235">缴费</tspan></text>
<text class="l" x="1094" y="312">用户定单资料</text>
<text class="l" x="1134" y="331">VPN开通工单</text>
<text class="l" x="987" y="358">结算信息</text>
<text class="l"><tspan x="810" y="429">漫游出访/</tspan><tspan x="810" y="439">增值业务</tspan><tspan x="810" y="449">话单</tspan></text>
<text class="l" x="964" y="443">话单及统计数据</text>
<text class="l"><tspan x="1111" y="419">结算信息</tspan><tspan x="1108" y="429">批开/激活信息</tspan></text>
<text class="l"><tspan x="1286" y="368">澳门充值/对帐</tspan><tspan x="1296" y="378">(至澳门)</tspan></text>
<text class="l" x="1341" y="437">充值</text>
<text class="l" x="1112" y="460">充值信息</text>
<text class="l" x="1122" y="470">充值帐目</text>
<text class="l" x="905" y="516">增值业务话单(老网)</text>
<text class="l" x="868" y="551">数据话单</text>
<text class="l" x="720" y="557">OCP</text>
<text class="l" x="746" y="583">OCP</text>
<text class="l" x="370" y="796">OCP</text>
<text class="l" x="1167" y="499">卡信息</text>
<text class="l"><tspan x="1167" y="523">终端信息</tspan><tspan x="1172" y="533">卡信息</tspan></text>
<text class="l"><tspan x="1251" y="512">业务资源/终端/</tspan><tspan x="1251" y="522">销售品/产品/套餐/</tspan><tspan x="1251" y="532">营销活动/</tspan><tspan x="1251" y="542">业务调度/</tspan><tspan x="1251" y="552">代理商信息/</tspan><tspan x="1251" y="562">客户资料</tspan></text>
<text class="l"><tspan x="1358" y="528">受理/</tspan><tspan x="1358" y="538">查询/</tspan><tspan x="1358" y="548">缴费</tspan></text>
<text class="l"><tspan x="1414" y="523">故障受理/进度查询</tspan><tspan x="1424" y="533">(至电子运维)</tspan></text>
<text class="l"><tspan x="1131" y="571">客户资料/</tspan><tspan x="1131" y="581">业务受理/</tspan><tspan x="1131" y="591">余额查询</tspan></text>
<text class="l"><tspan x="632" y="713">IVPN群开通</tspan><tspan x="634" y="723">(自省CRM)</tspan></text>
<text class="l" x="560" y="680">服务使用记录</text>
<text class="l" x="715" y="654">网间结算话单</text>
<text class="l" x="735" y="688">服务使用记录</text>
<text class="l" x="731" y="770">服务使用记录</text>
<text class="l"><tspan x="905" y="662">信控信息/</tspan><tspan x="905" y="672">资费信息</tspan></text>
<text class="l"><tspan x="858" y="721">收入信息</tspan><tspan x="858" y="731">(至ERP)</tspan></text>
<text class="l" x="1030" y="705">帐务信息</text>
<text class="l" x="1043" y="737">客户资料/缴费信息</text>
<text class="l" x="1085" y="757">订购关系</text>
<text class="l" x="1088" y="781">开通工单</text>
<text class="l" x="1088" y="805">开通工单</text>
<text class="l"><tspan x="1290" y="664">充值/查询/对帐</tspan><tspan x="1300" y="674">查询/缴费</tspan></text>
<text class="l" x="1105" y="701">客户/服务信息</text>
<text class="l" x="1122" y="718">开通信息</text>
<text class="l"><tspan x="1359" y="791">受理/</tspan><tspan x="1359" y="801">查询/</tspan><tspan x="1359" y="811">缴费</tspan></text>
<text class="l"><tspan x="1403" y="806">客服信息/</tspan><tspan x="1403" y="816">故障信息/</tspan><tspan x="1403" y="826">工单信息</tspan></text>
<text class="l"><tspan x="1124" y="829">营收信息</tspan><tspan x="1124" y="839">(至ERP)</tspan></text>
<text class="l" x="1188" y="836">客户资料/维修信息/派单</text>
<text class="l" x="716" y="862">告警信息</text>
<text class="l" x="825" y="862">资源信息</text>
<text class="l" x="1297" y="940">故障投诉工单信息</text>
</g>

<g id="legend">
<rect x="88" y="849" width="461" height="56" fill="#fff" stroke="#555" stroke-width="1.2"/>
<text class="l" x="92" y="864" font-weight="bold" fill="#222">图例：</text>
<rect class="pu" x="119" y="857" width="27" height="9"/><text class="l" x="158" y="865">并购资产</text>
<rect x="200" y="857" width="27" height="9" fill="url(#hatch)" stroke="#555"/><text class="l" x="234" y="865">复制系统</text>
<rect class="gy" x="288" y="857" width="27" height="9"/><text class="l" x="323" y="865">联通资产</text>
<line x1="377" y1="862" x2="405" y2="862" class="cg"/><text class="l" x="411" y="865">服务开通</text>
<line x1="453" y1="862" x2="483" y2="862" class="dg"/><text class="l" x="487" y="865">服务开通(承接)</text>
<rect class="or" x="119" y="874" width="27" height="9"/><text class="l" x="158" y="882">新建系统</text>
<rect class="cy" x="200" y="874" width="27" height="9"/><text class="l" x="234" y="882">网元/业务平台</text>
<line x1="288" y1="879" x2="317" y2="879" stroke="#555" stroke-width="1.2"/><text class="l" x="323" y="882">网络连接</text>
<line x1="377" y1="879" x2="405" y2="879" class="cp"/><text class="l" x="411" y="882">计费数据</text>
<line x1="453" y1="879" x2="483" y2="879" stroke="#8a2a9a" stroke-width="1.2" stroke-dasharray="2,2"/><text class="l" x="487" y="882">计费数据(承接)</text>
<rect class="lt" x="119" y="891" width="27" height="9"/><text class="l" x="158" y="899">改造系统</text>
<rect class="pk" x="200" y="891" width="27" height="9"/><text class="l" x="234" y="899">集团公司系统</text>
<line x1="288" y1="895" x2="317" y2="895" class="cb"/><text class="l" x="323" y="898">交易/信息交换</text>
<line x1="377" y1="895" x2="405" y2="895" class="cr"/><text class="l" x="411" y="898">OCP连接</text>
</g>
</svg>
